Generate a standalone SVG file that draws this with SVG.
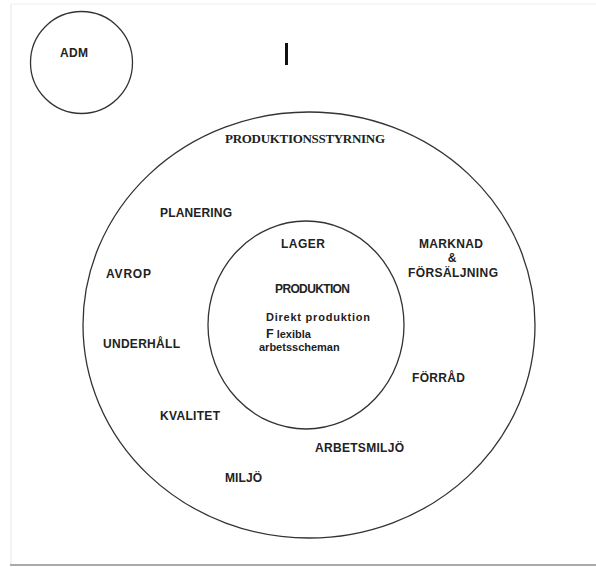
<svg xmlns="http://www.w3.org/2000/svg" width="596" height="567" viewBox="0 0 596 567">
<style>
.c{fill:none;stroke:#333;stroke-width:1.3}
.t{font-family:"Liberation Sans",Arial,sans-serif;font-weight:bold;font-size:12px;fill:#222}
.s{font-family:"Liberation Serif","Times New Roman",serif;font-weight:bold;font-size:13px;fill:#222}
.m{font-family:"Liberation Sans",Arial,sans-serif;font-weight:bold;font-size:11px;fill:#222}
</style>
<rect x="0" y="0" width="596" height="567" fill="#fff"/>
<line x1="11" y1="4" x2="596" y2="4" stroke="#eee" stroke-width="1"/>
<line x1="11" y1="4" x2="11" y2="565" stroke="#e6e6e6" stroke-width="1"/>
<line x1="10" y1="565" x2="596" y2="565" stroke="#aaa" stroke-width="2"/>
<rect x="285" y="43" width="3" height="22" fill="#111"/>
<g id="adm">
<circle class="c" cx="81.5" cy="62.5" r="51"/>
<text class="t" x="60" y="57" textLength="28">ADM</text>
</g>
<g id="produktionsstyrning">
<ellipse class="c" cx="309" cy="325" rx="226" ry="213"/>
<text class="s" x="225" y="143" textLength="160">PRODUKTIONSSTYRNING</text>
<text class="t" x="160" y="217" textLength="72">PLANERING</text>
<text class="t" x="106" y="278" textLength="45">AVROP</text>
<text class="t" x="103" y="348" textLength="77">UNDERHÅLL</text>
<text class="t" x="160" y="420" textLength="60">KVALITET</text>
<text class="t" x="225" y="482" textLength="37">MILJÖ</text>
<text class="t" x="315" y="452" textLength="89">ARBETSMILJÖ</text>
<text class="t" x="412" y="382" textLength="53">FÖRRÅD</text>
<text class="t" x="419" y="248" textLength="64">MARKNAD</text>
<text class="t" x="452" y="262" text-anchor="middle">&amp;</text>
<text class="t" x="408" y="277" textLength="90">FÖRSÄLJNING</text>
</g>
<g id="produktion">
<ellipse class="c" cx="306" cy="325" rx="98" ry="104"/>
<text class="t" x="281" y="248" textLength="44">LAGER</text>
<text class="t" x="275" y="293" textLength="75">PRODUKTION</text>
<text class="m" x="266" y="321" textLength="104">Direkt produktion</text>
<text class="m" x="266" y="338"><tspan font-size="12.5">F</tspan> lexibla</text>
<text class="m" x="259" y="351">arbetsscheman</text>
</g>
<g id="connectors"/>
</svg>
